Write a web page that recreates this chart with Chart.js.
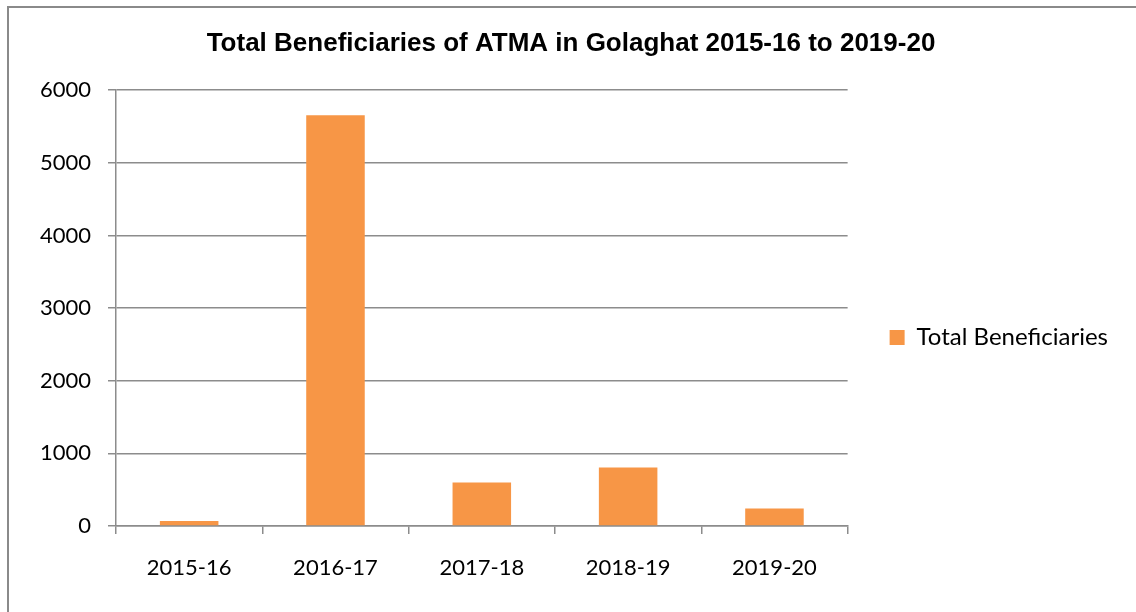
<!DOCTYPE html>
<html>
<head>
<meta charset="utf-8">
<script src="https://cdn.jsdelivr.net/npm/chart.js@4/dist/chart.umd.min.js"></script>
<style>
  html, body { margin: 0; padding: 0; background: #ffffff; }
  #wrap { width: 1136px; height: 612px; position: relative; }
</style>
</head>
<body>
<div id="wrap"><canvas id="c" width="1136" height="612"></canvas></div>
<script>
const categories = ['2015-16', '2016-17', '2017-18', '2018-19', '2019-20'];
const beneficiaries = [70, 5655, 600, 805, 240];
const seriesName = 'Total Beneficiaries';
const chartTitle = 'Total Beneficiaries of ATMA in Golaghat 2015-16 to 2019-20';
const yMin = 0, yMax = 6000, yStep = 1000;

const gridColor = '#8c8c8c';
const labelFont = { family: 'Lato, "Open Sans", sans-serif', size: 22 };
const legendFont = { family: 'Lato, "Open Sans", sans-serif', size: 24 };

const framePlugin = {
  id: 'frame',
  beforeDraw(chart) {
    const ctx = chart.ctx;
    ctx.save();
    ctx.fillStyle = '#ffffff';
    ctx.fillRect(0, 0, chart.width, chart.height);
    ctx.strokeStyle = '#8a8a8a';
    ctx.lineWidth = 2;
    ctx.beginPath();
    ctx.moveTo(8, chart.height + 2);
    ctx.lineTo(8, 7);
    ctx.lineTo(chart.width + 2, 7);
    ctx.stroke();
    ctx.restore();
  }
};

new Chart(document.getElementById('c'), {
  type: 'bar',
  data: {
    labels: categories,
    datasets: [{
      label: seriesName,
      data: beneficiaries,
      backgroundColor: '#F79646',
      borderWidth: 0,
      barPercentage: 0.4,
      categoryPercentage: 1.0
    }]
  },
  options: {
    responsive: false,
    animation: false,
    devicePixelRatio: 1,
    layout: { padding: { left: 24, right: 18, top: 0, bottom: 0 } },
    plugins: {
      tooltip: { enabled: false },
      title: {
        display: true,
        text: chartTitle,
        color: '#000000',
        font: { family: '"Liberation Sans", Arial, sans-serif', size: 26, weight: 'bold' },
        padding: { top: 28, bottom: 31 }
      },
      legend: {
        display: true,
        position: 'right',
        align: 'center',
        title: { display: true, text: '', font: { size: 20 }, padding: { top: 20, bottom: 19 } },
        labels: {
          boxWidth: 15,
          boxHeight: 15,
          padding: 42,
          color: '#000000',
          font: legendFont
        }
      }
    },
    scales: {
      x: {
        offset: true,
        afterFit(scale) { scale.height = 86; },
        grid: {
          display: true,
          offset: true,
          drawOnChartArea: false,
          drawTicks: true,
          tickLength: 8,
          color: gridColor,
          lineWidth: 1.5
        },
        border: { display: true, color: gridColor, width: 1.5 },
        ticks: { color: '#000000', font: labelFont, padding: 21, maxRotation: 0 }
      },
      y: {
        min: yMin,
        max: yMax,
        afterFit(scale) { scale.width = 92; },
        grid: {
          display: true,
          drawTicks: true,
          tickLength: 8,
          color: gridColor,
          lineWidth: 1.5
        },
        border: { display: true, color: gridColor, width: 1.5 },
        ticks: {
          stepSize: yStep,
          color: '#000000',
          font: labelFont,
          padding: 17,
          callback: (v) => String(v)
        }
      }
    }
  },
  plugins: [framePlugin]
});
</script>
</body>
</html>
